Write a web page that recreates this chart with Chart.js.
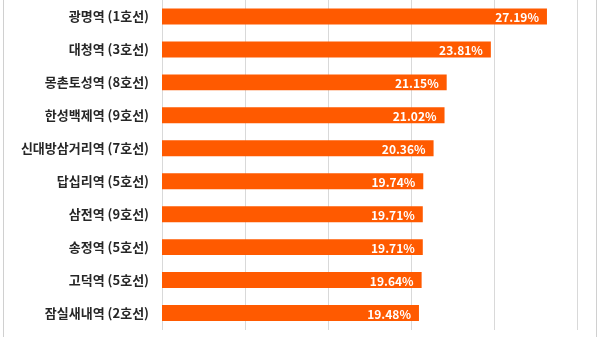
<!DOCTYPE html>
<html><head><meta charset="utf-8">
<script src="https://cdn.jsdelivr.net/npm/chart.js@4"></script>
<style>
html,body{margin:0;padding:0;background:#fff;}
#wrap{position:relative;width:600px;height:337px;}
#frame{position:absolute;left:3px;top:0;width:594px;height:337px;border-left:1px solid #d0d0d0;border-right:1px solid #d0d0d0;box-sizing:border-box;pointer-events:none;}
</style></head>
<body>
<div id="wrap"><canvas id="c" width="600" height="337"></canvas><div id="frame"></div></div>
<script>
const categories = ['광명역 (1호선)','대청역 (3호선)','몽촌토성역 (8호선)','한성백제역 (9호선)','신대방삼거리역 (7호선)','답십리역 (5호선)','삼전역 (9호선)','송정역 (5호선)','고덕역 (5호선)','잠실새내역 (2호선)'];
const values = [27.19, 23.81, 21.15, 21.02, 20.36, 19.74, 19.71, 19.71, 19.64, 19.48];
const valueLabels = ['27.19%','23.81%','21.15%','21.02%','20.36%','19.74%','19.71%','19.71%','19.64%','19.48%'];
const axisMin = 4, axisMax = 29, axisStep = 5;

const labelPlugin = {
  id: 'barLabels',
  afterDatasetsDraw(chart) {
    const ctx = chart.ctx;
    const meta = chart.getDatasetMeta(0);
    ctx.save();
    ctx.font = 'bold 12px "Noto Sans CJK KR", "Noto Sans", sans-serif';
    ctx.fillStyle = '#ffffff';
    ctx.textAlign = 'right';
    ctx.textBaseline = 'middle';
    meta.data.forEach((bar, i) => {
      ctx.fillText(valueLabels[i], bar.x - 8, bar.y + 1);
    });
    ctx.restore();
  }
};

new Chart(document.getElementById('c'), {
  type: 'bar',
  data: {
    labels: categories,
    datasets: [{
      data: values,
      backgroundColor: '#ff5a00',
      borderWidth: 0,
      categoryPercentage: 1,
      barPercentage: 0.485
    }]
  },
  options: {
    indexAxis: 'y',
    responsive: false,
    animation: false,
    devicePixelRatio: 1,
    layout: { padding: { left: 0, right: 23, top: 0, bottom: 7.5 } },
    plugins: { legend: { display: false }, tooltip: { enabled: false } },
    scales: {
      x: {
        min: axisMin, max: axisMax,
        ticks: { display: false, stepSize: axisStep },
        grid: { color: '#d9d9d9', lineWidth: 1, drawTicks: false },
        border: { display: false },
        afterFit(scale) { scale.height = 0; scale.paddingLeft = 0; scale.paddingRight = 0; }
      },
      y: {
        grid: { display: false, drawTicks: false },
        border: { display: false },
        ticks: {
          color: '#262626',
          padding: 13,
          font: { family: '"Noto Sans CJK KR", "Noto Sans", sans-serif', size: 13, weight: 'bold' }
        },
        afterFit(scale) { scale.width = 162; scale.paddingTop = 0; scale.paddingBottom = 0; }
      }
    }
  },
  plugins: [labelPlugin]
});
</script>
</body></html>
